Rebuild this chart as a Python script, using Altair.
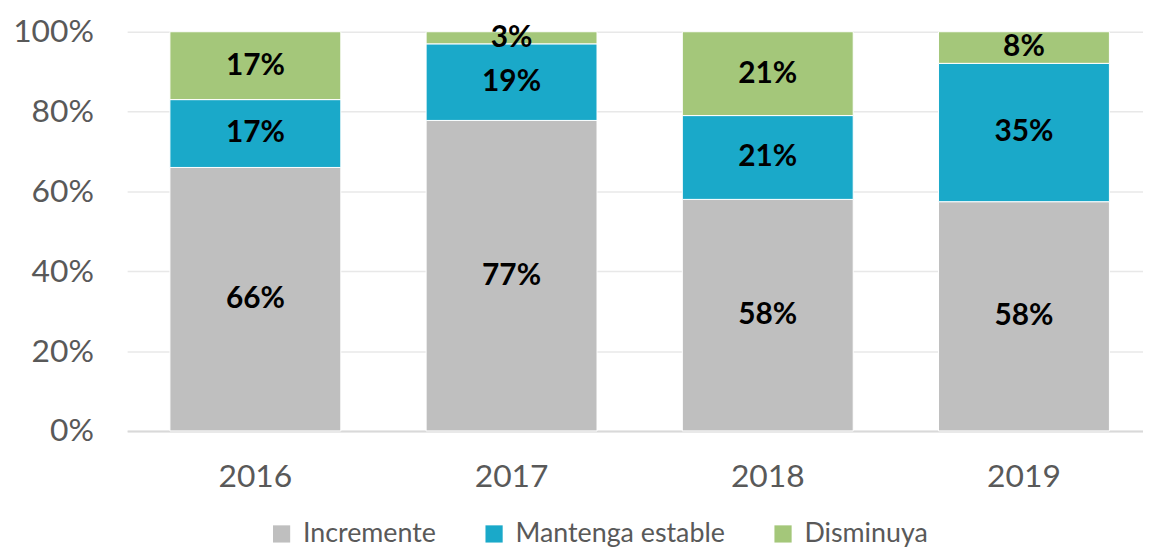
import altair as alt
import pandas as pd

years = ["2016", "2017", "2018", "2019"]
series = ["Incremente", "Mantenga estable", "Disminuya"]
incremente = [66, 77, 58, 58]
mantenga = [17, 19, 21, 35]
disminuya = [17, 3, 21, 8]
colors = ["#BFBFBF", "#1AA9C9", "#A4C77A"]

rows = []
for i, y in enumerate(years):
    for k, (s, vals) in enumerate(zip(series, [incremente, mantenga, disminuya])):
        rows.append({"year": y, "serie": s, "value": vals[i], "order": k,
                     "label": f"{vals[i]}%"})
df = pd.DataFrame(rows)

FONT = "Lato"
GREY_TXT = "#595959"

base = alt.Chart(df).transform_stack(
    stack="value", groupby=["year"], as_=["v0", "v1"], offset="normalize",
    sort=[alt.SortField("order", order="ascending")]
).transform_calculate(mid="(datum.v0 + datum.v1) / 2")

xscale = alt.Scale(paddingInner=0.333, paddingOuter=0.149, align=0.56)

xenc = alt.X("year:N", title=None, sort=years, scale=xscale,
             axis=alt.Axis(labelAngle=0, labelFontSize=32, labelColor=GREY_TXT,
                           labelFont=FONT, ticks=False, labelPadding=31,
                           domainColor="#D9D9D9", domainWidth=2, grid=False))

bars = base.mark_bar(stroke="white", strokeWidth=1).encode(
    x=xenc,
    y=alt.Y("v0:Q", title=None,
            scale=alt.Scale(domain=[0, 1], nice=False),
            axis=alt.Axis(values=[0, 0.2, 0.4, 0.6, 0.8, 1.0], format=".0%",
                          labelFontSize=32, labelColor=GREY_TXT, labelFont=FONT,
                          ticks=False, domain=False, labelPadding=34,
                          gridColor="#E8E8E8", gridWidth=1.5)),
    y2="v1:Q",
    color=alt.Color("serie:N", sort=series,
                    scale=alt.Scale(domain=series, range=colors),
                    legend=alt.Legend(title=None, orient="none", direction="horizontal",
                                      legendX=142, legendY=492, symbolType="square",
                                      symbolSize=300, symbolStrokeWidth=0,
                                      labelFontSize=27, labelFont=FONT,
                                      labelColor=GREY_TXT, columnPadding=44,
                                      labelOffset=8, labelLimit=0)),
    order=alt.Order("order:Q"),
)

texts = base.mark_text(fontSize=30, fontWeight="bold", font=FONT, color="black",
                       baseline="middle").encode(
    x=alt.X("year:N", sort=years, scale=xscale),
    y=alt.Y("mid:Q"),
    text="label:N",
)

chart = (bars + texts).properties(
    width=1023, height=402,
    autosize=alt.AutoSizeParams(type="none"),
    padding={"left": 120, "top": 22, "right": 0, "bottom": 117},
).configure_view(stroke=None)

chart.save("out.html", embed_options={"renderer": "svg", "actions": False})
